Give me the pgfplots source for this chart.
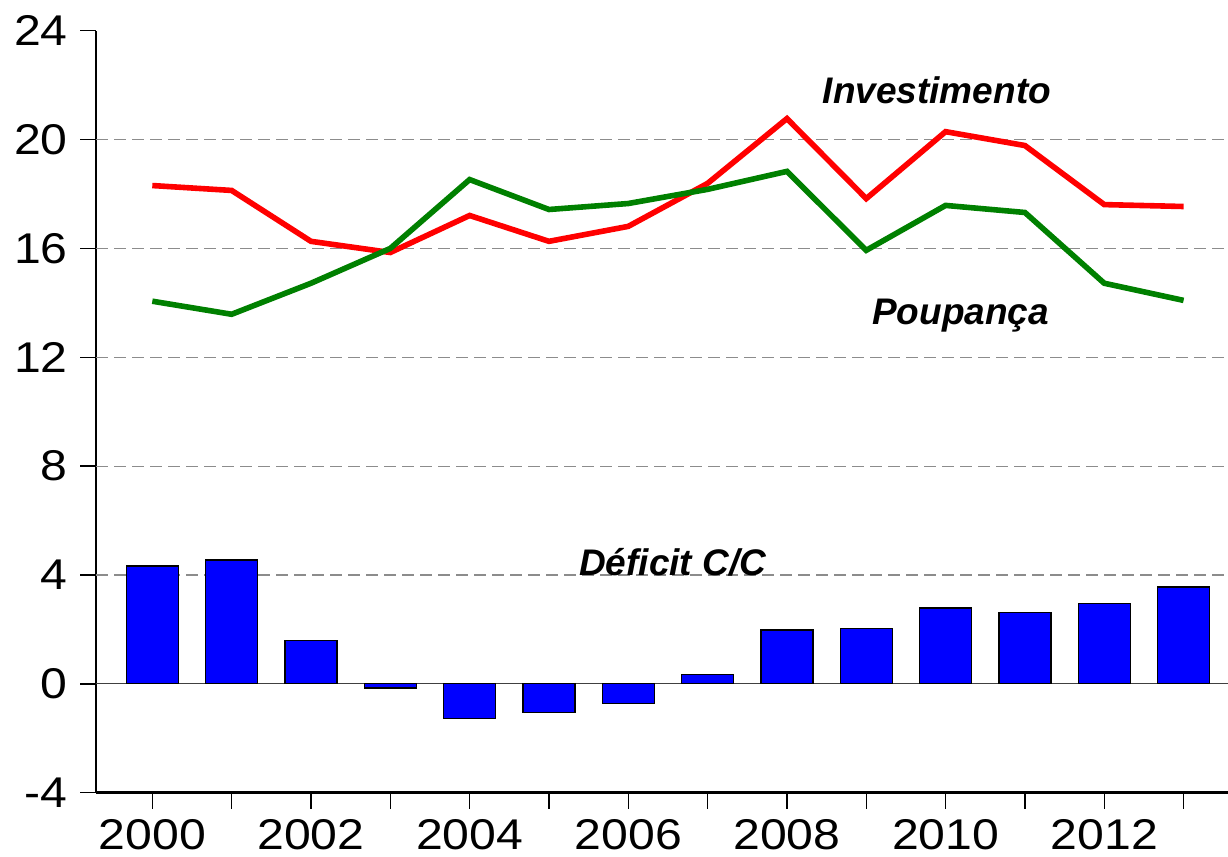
\documentclass[border=0pt]{standalone}
\usepackage{pgfplots}
\pgfplotsset{compat=1.18}
\usepackage{fontspec}
\setmainfont{Liberation Sans}
\definecolor{gridgray}{RGB}{140,140,140}
\definecolor{ecgreen}{RGB}{0,128,0}
\begin{document}
\begin{tikzpicture}
\begin{axis}[
  scale only axis,
  width=566pt, height=381pt,
  xmin=1999.29, xmax=2013.56,
  ymin=-4, ymax=24,
  axis x line*=bottom, axis y line*=left,
  axis line style={line width=1.2pt, black},
  tick align=outside,
  major tick length=8pt,
  tick style={line width=0.75pt, black},
  xtick={2000,2001,2002,2003,2004,2005,2006,2007,2008,2009,2010,2011,2012,2013},
  xticklabels={2000,,2002,,2004,,2006,,2008,,2010,,2012,},
  ytick={-4,0,4,8,12,16,20,24},
  yticklabels={-4,0,4,8,12,16,20,24},
  tick label style={font=\fontsize{21.5}{21.5}\selectfont, xscale=1.12},
  extra y ticks={4,8,12,16,20},
  extra y tick labels={},
  extra y tick style={grid=major, major grid style={gridgray, line width=0.6pt, dash pattern=on 6pt off 3pt}},
  yticklabel style={xshift=-2pt},
  xticklabel style={yshift=-2pt},
  clip=false,
]
\addplot[black!75, line width=0.6pt] coordinates {(1999.29,0) (2013.56,0)};
\addplot[ybar, bar width=0.655, fill=blue, draw=black, line width=0.6pt] coordinates {
(2000,4.33) (2001,4.55) (2002,1.58) (2003,-0.15) (2004,-1.28) (2005,-1.06) (2006,-0.73)
(2007,0.33) (2008,1.98) (2009,2.02) (2010,2.79) (2011,2.61) (2012,2.94) (2013,3.56)};
\addplot[red, line width=2.8pt, line join=miter] coordinates {
(2000,18.31) (2001,18.13) (2002,16.26) (2003,15.85) (2004,17.21) (2005,16.26) (2006,16.81)
(2007,18.39) (2008,20.77) (2009,17.83) (2010,20.29) (2011,19.78) (2012,17.61) (2013,17.54)};
\addplot[ecgreen, line width=2.8pt, line join=miter] coordinates {
(2000,14.06) (2001,13.58) (2002,14.72) (2003,16.00) (2004,18.53) (2005,17.43) (2006,17.65)
(2007,18.17) (2008,18.83) (2009,15.93) (2010,17.58) (2011,17.32) (2012,14.72) (2013,14.09)};
\node[font=\fontsize{18.5}{18.5}\selectfont\bfseries\itshape] at (axis cs:2009.89,21.81) {Investimento};
\node[font=\fontsize{18.5}{18.5}\selectfont\bfseries\itshape] at (axis cs:2010.19,13.54) {Poupança};
\node[font=\fontsize{18.5}{18.5}\selectfont\bfseries\itshape] at (axis cs:2006.56,4.46) {Déficit C/C};
\end{axis}
\pgfresetboundingbox
\useasboundingbox (-48pt,-32.15pt) rectangle (566pt,396.35pt);
\end{tikzpicture}
\end{document}
